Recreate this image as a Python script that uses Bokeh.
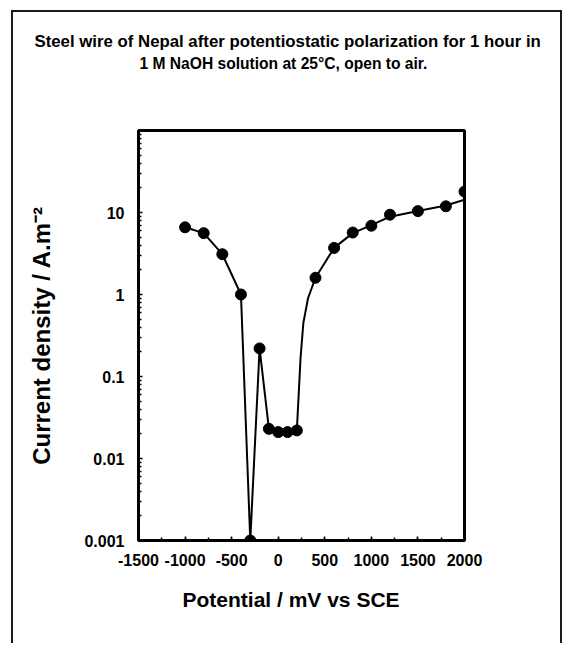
from bokeh.plotting import figure
from bokeh.models import Range1d, Title, SingleIntervalTicker, FixedTicker, CustomJSTickFormatter
from bokeh.embed import file_html
from bokeh.resources import INLINE

# ---- data ----
title_line1 = "Steel wire of Nepal after potentiostatic polarization for 1 hour in"
title_line2 = "1 M NaOH solution at 25\u00b0C, open to air."
x_label = "Potential / mV vs SCE"
y_label = "Current density / A.m\u207b\u00b2"

# measured points (markers)
potential_mv = [-1000, -800, -600, -400, -300, -200, -100, 0, 100, 200,
                400, 600, 800, 1000, 1200, 1500, 1800, 2000]
current_density = [6.6, 5.6, 3.1, 1.0, 0.001, 0.22, 0.023, 0.021, 0.021, 0.022,
                   1.6, 3.7, 5.7, 6.9, 9.4, 10.4, 11.9, 18.0]

# drawn (smoothed) curve
curve_mv = [-1000, -800, -600, -400, -300, -200, -100, 0, 100, 200,
            240, 270, 320, 400, 600, 800, 1000, 1200, 1500, 1800, 2000]
curve_density = [6.6, 5.6, 3.1, 1.0, 0.001, 0.22, 0.023, 0.021, 0.021, 0.022,
                 0.17, 0.45, 0.9, 1.6, 3.7, 5.6, 7.0, 8.9, 10.4, 12.2, 14.3]

x_major_ticks = 500
y_tick_values = [0.001, 0.01, 0.1, 1, 10]
y_minor_values = [m * 10.0 ** e for e in range(-3, 2) for m in range(2, 10)]

FONT = "Liberation Sans"

p = figure(width=551, height=633, output_backend="svg", toolbar_location=None,
           y_axis_type="log", x_range=Range1d(-1500, 2000), y_range=Range1d(0.001, 100),
           min_border_left=125, min_border_right=100, min_border_top=118,
           min_border_bottom=105)
p.styles = {"margin-left": "11px", "margin-top": "10px",
            "border-left": "2px solid #1a1a1a", "border-top": "2px solid #1a1a1a",
            "border-right": "2px solid #1a1a1a"}

p.title = None
spacer = Title(text=" ", text_font_size="1px", standoff=56)
t2 = Title(text=title_line2, align="left", offset=1, standoff=0, text_font=FONT,
           text_font_size="15.6px", text_font_style="bold", text_color="black")
t1 = Title(text=title_line1, align="left", offset=-104, standoff=3, text_font=FONT,
           text_font_size="16.8px", text_font_style="bold", text_color="black")
p.add_layout(spacer, "above")
p.add_layout(t2, "above")
p.add_layout(t1, "above")

# x-axis title (placed as a below-title so it can sit slightly left of the frame centre)
xt = Title(text=x_label, align="left", offset=44, standoff=38, vertical_align="top",
           text_font=FONT, text_font_size="21px", text_font_style="bold", text_color="black")

p.xgrid.visible = False
p.ygrid.visible = False
p.outline_line_color = "black"
p.outline_line_width = 3
p.background_fill_color = "white"
p.border_fill_color = "white"

xa = p.xaxis[0]
xa.ticker = SingleIntervalTicker(interval=x_major_ticks, num_minor_ticks=2)
xa.formatter = CustomJSTickFormatter(code="return tick.toString();")
ya = p.yaxis[0]
ya.ticker = FixedTicker(ticks=y_tick_values, minor_ticks=y_minor_values)
ya.formatter = CustomJSTickFormatter(code="return tick.toString();")
ya.axis_label = y_label

for ax in (xa, ya):
    ax.axis_line_width = 3
    ax.axis_line_color = "black"
    ax.major_tick_in = 4
    ax.major_tick_out = 0
    ax.minor_tick_in = 3
    ax.minor_tick_out = 0
    ax.major_tick_line_width = 1.5
    ax.minor_tick_line_width = 1.5
    ax.major_label_text_font = FONT
    ax.major_label_text_font_style = "bold"
    ax.major_label_text_font_size = "16px"
    ax.major_label_text_color = "black"
    ax.axis_label_text_font = FONT
    ax.axis_label_text_font_style = "bold"
    ax.axis_label_text_color = "black"
ya.axis_label_text_font_size = "24px"
xa.major_label_standoff = 13
ya.major_label_standoff = 14
ya.axis_label_standoff = 26

p.add_layout(xt, "below")

p.line(curve_mv, curve_density, line_color="black", line_width=2)
p.scatter(potential_mv, current_density, size=11, fill_color="black", line_color="black")

open("out.html", "w").write(file_html(p, INLINE))
